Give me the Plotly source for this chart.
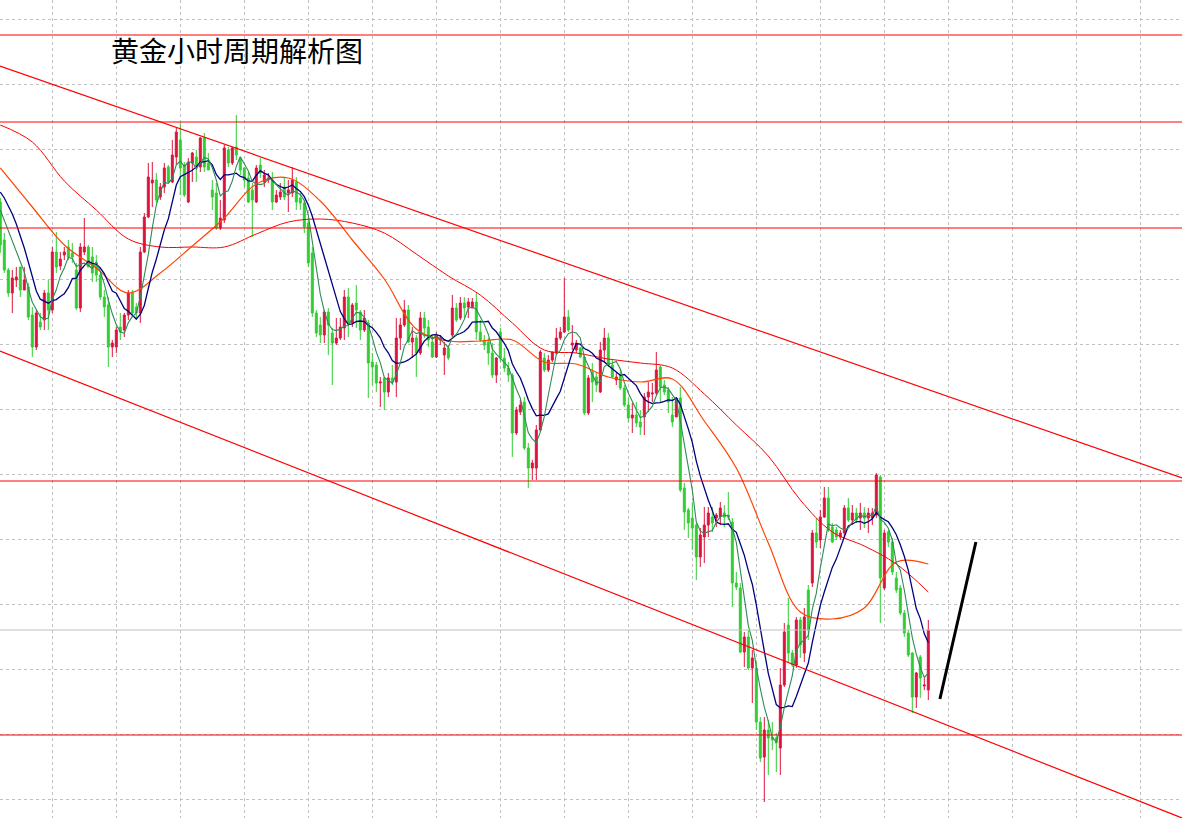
import plotly.graph_objects as go
import pandas as pd

# ---------------- data (price units) ----------------
opens = [2679.8,2676.0,2673.0,2670.7,2672.0,2673.3,2671.0,2671.3,2668.5,2665.3,
         2667.8,2668.0,2670.7,2669.0,2674.8,2673.4,2674.5,2675.3,2674.7,2673.0,
         2669.2,2674.8,2675.3,2674.3,2673.7,2672.5,2670.3,2669.5,2665.3,2665.3,
         2667.3,2667.0,2668.5,2670.7,2669.3,2668.7,2674.8,2678.3,2681.7,2682.0,
         2680.3,2681.3,2683.3,2681.8,2684.3,2686.0,2683.5,2679.8,2683.7,2684.3,
         2683.3,2686.2,2683.7,2681.0,2680.7,2677.2,2678.0,2685.0,2683.7,2685.3,
         2684.2,2683.2,2682.2,2681.0,2679.8,2683.5,2681.8,2682.0,2682.0,2679.8,
         2680.3,2681.3,2680.7,2680.7,2681.8,2680.2,2679.7,2677.7,2674.7,2668.7,
         2667.5,2666.5,2668.8,2666.7,2665.7,2666.2,2667.2,2670.3,2667.7,2669.7,
         2668.8,2667.0,2667.7,2663.8,2663.5,2661.7,2662.2,2660.8,2662.2,2661.8,
         2666.2,2667.5,2669.0,2665.8,2666.2,2664.7,2668.2,2667.3,2665.8,2664.3,
         2666.0,2664.5,2665.2,2666.5,2669.2,2668.2,2669.7,2669.3,2669.2,2669.8,
         2666.8,2666.0,2665.8,2664.7,2662.5,2666.8,2664.2,2663.2,2662.5,2656.7,
         2658.8,2659.8,2655.2,2653.2,2653.2,2657.0,2664.2,2663.0,2664.0,2664.7,
         2666.2,2666.8,2668.3,2665.5,2665.0,2665.2,2664.3,2658.7,2662.8,2662.3,
         2660.8,2665.0,2666.2,2663.5,2662.0,2662.5,2661.2,2659.5,2658.2,2658.5,
         2657.8,2658.3,2660.3,2660.6,2660.7,2663.3,2661.5,2661.0,2658.5,2658.3,
         2660.2,2651.2,2649.0,2648.2,2647.5,2644.3,2646.3,2647.5,2648.3,2648.2,
         2648.3,2648.7,2648.5,2647.8,2641.7,2641.2,2634.8,2636.3,2633.2,2633.2,
         2627.8,2624.3,2627.0,2626.3,2626.2,2625.2,2631.5,2637.5,2634.7,2633.5,
         2638.0,2634.7,2641.0,2641.7,2646.7,2646.0,2648.3,2650.2,2647.3,2647.0,
         2646.3,2646.7,2649.2,2648.0,2648.7,2648.2,2648.7,2648.2,2648.2,2648.5,
         2652.3,2641.2,2646.8,2645.8,2642.2,2641.2,2638.7,2636.7,2634.7,2630.3,
         2634.3,2631.4,2631.0]
highs = [2680.2,2676.7,2673.2,2673.0,2673.3,2673.3,2673.3,2671.7,2669.3,2669.0,
         2668.7,2671.0,2672.0,2675.3,2676.8,2674.8,2675.3,2676.0,2675.7,2673.7,
         2675.7,2678.2,2675.5,2675.3,2674.5,2672.7,2671.0,2670.3,2666.0,2667.3,
         2668.7,2668.7,2671.0,2671.0,2669.7,2675.3,2678.7,2683.7,2683.8,2682.7,
         2681.7,2683.7,2683.5,2686.0,2687.2,2687.7,2683.8,2684.2,2684.8,2685.0,
         2686.3,2686.7,2684.7,2682.0,2681.7,2680.0,2685.5,2685.3,2685.3,2688.5,
         2684.3,2683.3,2682.8,2681.7,2683.5,2684.2,2683.0,2682.7,2682.8,2681.0,
         2681.7,2682.3,2682.0,2683.3,2682.3,2680.7,2680.0,2678.3,2675.3,2669.0,
         2668.3,2669.0,2669.2,2667.2,2668.2,2668.2,2671.0,2671.2,2669.7,2671.5,
         2669.0,2669.0,2668.0,2664.7,2663.8,2662.3,2662.3,2662.7,2663.5,2668.2,
         2668.2,2670.0,2669.5,2667.3,2666.5,2668.8,2668.8,2668.0,2666.5,2666.8,
         2666.5,2665.8,2665.5,2670.5,2669.7,2670.3,2670.3,2670.2,2670.2,2670.7,
         2668.0,2666.5,2666.2,2665.7,2664.3,2667.2,2665.2,2663.8,2662.7,2659.3,
         2660.0,2660.3,2655.7,2654.0,2657.5,2665.0,2664.7,2664.5,2664.8,2667.2,
         2667.3,2672.2,2669.0,2667.5,2666.0,2665.3,2664.5,2662.5,2663.7,2662.8,
         2665.8,2667.2,2666.7,2664.0,2662.7,2663.0,2661.5,2660.2,2659.7,2659.8,
         2659.0,2660.7,2661.8,2661.7,2664.8,2663.5,2662.0,2661.3,2660.3,2660.3,
         2661.3,2651.7,2649.2,2649.8,2647.7,2647.2,2649.3,2649.3,2649.3,2648.7,
         2649.8,2649.5,2650.8,2648.2,2642.8,2641.7,2636.8,2637.0,2635.0,2633.8,
         2628.3,2628.3,2628.0,2627.8,2626.7,2633.2,2637.7,2640.2,2635.0,2638.3,
         2638.3,2639.2,2641.5,2647.0,2648.2,2649.0,2651.3,2651.3,2647.7,2647.3,
         2647.0,2649.5,2650.2,2649.5,2649.2,2649.7,2649.3,2649.2,2649.2,2652.7,
         2652.5,2647.0,2647.0,2646.2,2642.8,2641.5,2639.0,2637.0,2634.8,2632.8,
         2634.5,2632.2,2638.0]
lows = [2674.7,2672.7,2670.3,2668.7,2671.3,2670.3,2671.0,2668.0,2664.3,2665.0,
        2667.0,2667.0,2667.0,2668.7,2672.7,2673.0,2674.0,2674.0,2673.7,2669.0,
        2668.8,2674.5,2673.3,2671.8,2671.8,2670.0,2668.3,2663.3,2664.3,2664.7,
        2666.0,2666.3,2668.0,2668.3,2668.0,2667.7,2674.7,2678.2,2679.3,2679.7,
        2680.0,2680.7,2681.7,2681.7,2683.5,2680.5,2680.3,2679.7,2681.8,2681.8,
        2682.8,2682.8,2683.0,2679.0,2677.0,2677.0,2677.7,2683.3,2683.5,2684.0,
        2682.5,2681.3,2679.7,2676.3,2679.7,2682.2,2681.3,2681.7,2679.0,2679.7,
        2680.0,2680.0,2678.8,2680.3,2679.0,2679.0,2676.7,2673.3,2668.3,2666.3,
        2665.7,2665.7,2664.5,2661.5,2665.5,2666.0,2666.0,2666.3,2667.3,2667.2,
        2666.0,2666.8,2660.2,2661.5,2660.8,2659.3,2659.0,2660.3,2661.5,2660.3,
        2665.0,2667.3,2665.7,2664.2,2662.3,2664.5,2666.2,2665.3,2664.2,2664.2,
        2665.5,2662.5,2664.0,2666.3,2667.8,2668.0,2668.2,2668.2,2669.2,2666.0,
        2665.8,2665.0,2663.5,2662.2,2661.7,2663.8,2662.8,2661.8,2654.3,2656.5,
        2658.5,2655.0,2651.2,2652.0,2652.0,2656.8,2662.8,2662.8,2663.8,2664.5,
        2666.0,2666.7,2666.8,2665.0,2664.7,2664.2,2658.5,2658.5,2659.8,2660.8,
        2660.7,2663.8,2663.3,2662.2,2661.5,2661.0,2659.3,2657.8,2656.7,2657.3,
        2656.5,2656.5,2658.8,2659.8,2660.5,2659.7,2660.5,2658.7,2657.3,2658.3,
        2650.8,2647.0,2646.2,2645.0,2642.0,2643.3,2643.7,2646.3,2646.8,2647.3,
        2647.5,2647.3,2648.0,2639.3,2641.0,2634.7,2633.3,2633.0,2629.7,2627.0,
        2623.8,2619.8,2622.5,2625.0,2622.8,2622.5,2631.3,2633.8,2633.3,2633.2,
        2634.2,2633.8,2636.0,2641.3,2645.2,2645.2,2648.2,2646.8,2645.7,2646.0,
        2646.0,2646.3,2647.8,2647.5,2647.7,2647.0,2647.2,2646.7,2647.5,2648.2,
        2637.7,2641.0,2645.3,2642.5,2640.7,2638.5,2636.3,2634.3,2628.7,2629.2,
        2630.2,2631.0,2630.0]
closes = [2675.5,2673.0,2670.7,2672.2,2672.3,2671.0,2672.0,2668.3,2665.3,2668.7,
          2667.3,2670.7,2669.0,2674.8,2673.3,2674.1,2674.8,2674.3,2674.3,2669.2,
          2675.3,2675.3,2673.3,2672.7,2672.5,2670.3,2669.3,2665.3,2665.7,2667.0,
          2666.8,2668.5,2670.7,2668.7,2668.7,2674.8,2678.3,2682.3,2682.0,2680.0,
          2681.3,2683.2,2681.8,2684.5,2686.8,2683.2,2680.5,2683.8,2684.7,2683.3,
          2686.2,2683.3,2683.0,2680.3,2677.2,2678.2,2685.2,2683.7,2685.2,2684.5,
          2683.0,2682.0,2679.8,2680.0,2683.2,2682.7,2682.5,2682.2,2679.8,2680.5,
          2680.8,2680.3,2681.0,2682.0,2679.8,2679.7,2677.3,2673.7,2668.7,2666.7,
          2666.5,2668.8,2667.5,2665.7,2666.2,2667.3,2670.3,2667.7,2669.5,2669.0,
          2667.0,2668.2,2663.7,2663.3,2661.7,2661.8,2660.8,2662.2,2661.8,2666.2,
          2667.5,2669.0,2665.8,2666.2,2664.7,2668.2,2667.2,2666.0,2664.3,2666.5,
          2666.2,2665.2,2664.2,2669.2,2668.0,2669.7,2669.2,2669.8,2669.8,2666.8,
          2666.0,2665.5,2664.7,2662.5,2664.2,2664.2,2663.2,2662.5,2656.7,2659.0,
          2659.5,2655.2,2653.2,2653.7,2657.0,2664.8,2663.0,2664.0,2664.8,2666.2,
          2666.8,2668.3,2667.0,2665.7,2665.7,2664.3,2658.7,2662.2,2661.8,2661.5,
          2665.0,2666.2,2663.5,2662.3,2662.3,2661.2,2659.5,2658.2,2658.5,2657.7,
          2657.3,2660.3,2660.8,2660.7,2663.0,2661.3,2660.8,2659.8,2657.8,2660.2,
          2651.0,2648.8,2647.7,2647.2,2644.3,2646.5,2647.5,2648.7,2647.7,2648.5,
          2649.2,2648.3,2648.3,2641.7,2641.3,2634.8,2636.3,2633.2,2634.2,2627.8,
          2624.2,2627.0,2626.2,2626.0,2625.7,2631.5,2636.8,2634.7,2633.5,2638.0,
          2635.5,2638.3,2637.0,2646.7,2645.8,2648.3,2650.2,2647.0,2645.8,2646.3,
          2646.7,2649.2,2648.0,2648.7,2648.0,2648.7,2648.2,2648.7,2648.7,2652.5,
          2642.2,2646.7,2645.8,2642.8,2641.0,2638.7,2636.7,2634.5,2630.3,2632.7,
          2632.2,2631.5,2637.0]

# fast moving averages at the left edge (history before the window)
ma5_head = [2679.0, 2678.0, 2677.0, 2676.0, 2674.8, 2673.8, 2672.8]
ma10_head = [2680.8, 2680.2, 2679.4, 2678.6, 2677.6, 2676.5, 2675.2, 2673.8, 2672.4]

# slow moving averages, sampled every 8 candles
slow_idx = [0, 8, 16, 24, 32, 40, 48, 56, 64, 72, 80, 88, 96, 104, 112, 120,
            128, 136, 144, 152, 160, 168, 176, 184, 192, 200, 208, 216, 224, 232]
ma_orange = [2683.2, 2679.3, 2675.5, 2673.2, 2670.7, 2672.7, 2675.4, 2678.2, 2681.6, 2682.2,
             2679.9, 2676.0, 2672.1, 2667.1, 2665.9, 2665.9, 2666.0, 2663.8, 2663.6, 2662.3,
             2661.8, 2662.1, 2657.9, 2653.2, 2645.7, 2638.8, 2638.1, 2639.2, 2643.8, 2643.6]
ma_red = [2687.5, 2685.8, 2681.9, 2679.0, 2676.1, 2675.3, 2675.3, 2675.3, 2676.6, 2677.8,
          2678.1, 2677.7, 2676.7, 2674.6, 2672.4, 2670.5, 2667.7, 2665.0, 2664.7, 2664.1,
          2663.7, 2663.2, 2660.6, 2657.5, 2654.4, 2650.0, 2646.8, 2645.4, 2643.6, 2640.8]

# horizontal levels and drawn objects
red_levels = [2696.5, 2687.8, 2677.2, 2651.9, 2626.5]
grey_level = 2637.0
channel_upper = [(-0.075, 2693.4), (295.425, 2652.2)]
channel_lower = [(-0.075, 2664.9), (295.425, 2618.2)]
arrow_line = [(234.9, 2630.1), (243.9, 2645.8)]
title_text = "黄金小时周期解析图"

# ---------------- figure ----------------
idx = list(range(len(closes)))
s = pd.Series(closes)
ma5 = s.rolling(5, min_periods=1).mean().tolist()
ma10 = s.rolling(10, min_periods=1).mean().tolist()
ma5[:len(ma5_head)] = ma5_head
ma10[:len(ma10_head)] = ma10_head

fig = go.Figure()
fig.add_trace(go.Candlestick(
    x=idx, open=opens, high=highs, low=lows, close=closes,
    increasing=dict(line=dict(color="#DC143C", width=1), fillcolor="#DC143C"),
    decreasing=dict(line=dict(color="#32CD32", width=1), fillcolor="#32CD32"),
    whiskerwidth=0, hoverinfo="skip"))
fig.add_trace(go.Scatter(x=slow_idx, y=ma_red, mode="lines",
                         line=dict(color="#FF0000", width=1, shape="spline"), hoverinfo="skip"))
fig.add_trace(go.Scatter(x=slow_idx, y=ma_orange, mode="lines",
                         line=dict(color="#FF4500", width=1.2, shape="spline"), hoverinfo="skip"))
fig.add_trace(go.Scatter(x=idx, y=ma10, mode="lines",
                         line=dict(color="#000080", width=1.3), hoverinfo="skip"))
fig.add_trace(go.Scatter(x=idx, y=ma5, mode="lines",
                         line=dict(color="#2E8B57", width=1.1), hoverinfo="skip"))

shapes = []
for lv in red_levels:
    shapes.append(dict(type="line", xref="paper", yref="y", x0=0, x1=1, y0=lv, y1=lv,
                       line=dict(color="#FF0000", width=1.2)))
shapes.append(dict(type="line", xref="paper", yref="y", x0=0, x1=1, y0=grey_level, y1=grey_level,
                   line=dict(color="#C0C0C0", width=1.2)))
for ch in (channel_upper, channel_lower):
    shapes.append(dict(type="line", xref="x", yref="y", x0=ch[0][0], y0=ch[0][1],
                       x1=ch[1][0], y1=ch[1][1], line=dict(color="#FF0000", width=1.2)))
shapes.append(dict(type="line", xref="x", yref="y", x0=arrow_line[0][0], y0=arrow_line[0][1],
                   x1=arrow_line[1][0], y1=arrow_line[1][1], line=dict(color="#000000", width=3)))

fig.update_layout(
    width=1182, height=818, margin=dict(l=0, r=0, t=0, b=0),
    paper_bgcolor="white", plot_bgcolor="white", showlegend=False,
    hovermode=False, shapes=shapes,
    xaxis=dict(range=[-0.075, 295.425], rangeslider=dict(visible=False),
               tickmode="linear", tick0=12.925, dtick=16,
               showgrid=True, gridcolor="#C0C0C0", gridwidth=1, griddash="3px,3px",
               showticklabels=False, zeroline=False, showline=False, ticks=""),
    yaxis=dict(range=[2618.2, 2700], tickmode="linear", tick0=2698.1, dtick=6.5,
               showgrid=True, gridcolor="#C0C0C0", gridwidth=1, griddash="3px,3px",
               showticklabels=False, zeroline=False, showline=False, ticks=""),
    annotations=[dict(text=title_text, xref="paper", yref="paper",
                      x=109 / 1182, y=1 - 50 / 818, xanchor="left", yanchor="middle",
                      showarrow=False,
                      font=dict(family="Noto Sans CJK SC", size=28, color="#000000"))],
)

fig.write_html("out.html", config={"displayModeBar": False})
